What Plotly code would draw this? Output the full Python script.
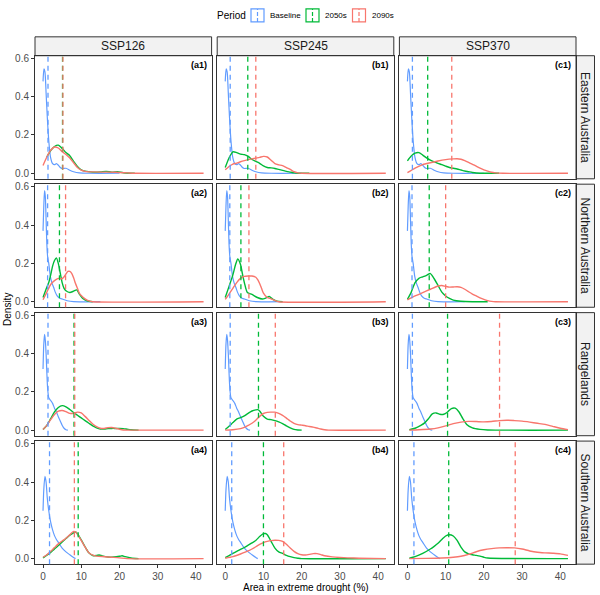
import plotly.graph_objects as go

# Facets
REGIONS = ["Eastern Australia", "Northern Australia", "Rangelands", "Southern Australia"]
SCENARIOS = ["SSP126", "SSP245", "SSP370"]
PERIODS = ["Baseline", "2050s", "2090s"]
TAGS = [["(a1)", "(b1)", "(c1)"], ["(a2)", "(b2)", "(c2)"],
        ["(a3)", "(b3)", "(c3)"], ["(a4)", "(b4)", "(c4)"]]
X_TICKS = [0, 10, 20, 30, 40]
Y_TICKS = [0.0, 0.2, 0.4, 0.6]

# Baseline densities (same in each scenario column)
BASE_EAST_X = [0, 0.25, 0.5, 0.8, 1.1, 1.5, 2, 2.5, 3, 3.5, 4, 4.5, 5, 6, 7, 8, 9.5, 12, 20]
BASE_EAST_Y = [0.48, 0.545, 0.53, 0.42, 0.3, 0.17, 0.08, 0.05, 0.045, 0.05, 0.042, 0.03, 0.025, 0.026, 0.016, 0.008, 0.002, 0, 0]
BASE_NORTH_X = [0, 0.2, 0.4, 0.6, 0.8, 1.0, 1.2, 1.5, 1.9, 2.3, 2.8, 3.2, 3.7, 4.3, 5, 6.3, 8, 15]
BASE_NORTH_Y = [0.37, 0.5, 0.58, 0.55, 0.43, 0.3, 0.237, 0.2, 0.134, 0.1, 0.074, 0.05, 0.031, 0.02, 0.014, 0.005, 0, 0]
BASE_RANGE_X = [0, 0.2, 0.4, 0.6, 0.8, 1.0, 1.2, 1.5, 2, 2.5, 3, 3.5, 4, 4.5, 5, 5.5, 6, 6.5]
BASE_RANGE_Y = [0.32, 0.45, 0.5, 0.47, 0.4, 0.3, 0.22, 0.17, 0.155, 0.14, 0.115, 0.095, 0.07, 0.048, 0.026, 0.01, 0.002, 0]
BASE_SOUTH_X = [0, 0.2, 0.5, 0.8, 1.1, 1.5, 2, 2.5, 3, 3.5, 4, 5, 6, 7, 8, 8.5]
BASE_SOUTH_Y = [0.25, 0.36, 0.43, 0.4, 0.32, 0.25, 0.19, 0.15, 0.12, 0.1, 0.085, 0.055, 0.035, 0.02, 0.006, 0]

# Eastern Australia
EAST_126_2050_X = [1, 2, 3, 4, 5, 6, 7, 8, 9, 10, 11, 13, 15, 16.5, 18, 19.5, 21, 24]
EAST_126_2050_Y = [0.085, 0.118, 0.14, 0.147, 0.13, 0.108, 0.092, 0.062, 0.035, 0.018, 0.011, 0.006, 0.007, 0.01, 0.006, 0.008, 0.003, 0]
EAST_126_2090_X = [0, 1, 2, 3, 4, 5, 6, 7, 8, 9, 10, 11, 13, 16, 19, 22, 24, 42]
EAST_126_2090_Y = [0.041, 0.085, 0.12, 0.137, 0.132, 0.113, 0.098, 0.08, 0.055, 0.03, 0.016, 0.01, 0.007, 0.006, 0.005, 0.002, 0, 0]
EAST_245_2050_X = [0, 1, 2, 3, 4, 5, 6, 7, 8, 9, 10, 11, 12, 13, 14, 15, 16, 17, 18, 19, 22]
EAST_245_2050_Y = [0.03, 0.08, 0.112, 0.108, 0.1, 0.097, 0.088, 0.072, 0.062, 0.052, 0.038, 0.03, 0.028, 0.025, 0.02, 0.015, 0.01, 0.006, 0.002, 0, 0]
EAST_245_2090_X = [0, 1, 2, 3, 4, 5, 6, 7, 8, 9, 10, 11, 12, 13, 14, 15, 16, 17, 18, 19, 20, 42]
EAST_245_2090_Y = [0.018, 0.035, 0.048, 0.053, 0.06, 0.066, 0.071, 0.075, 0.079, 0.083, 0.088, 0.085, 0.068, 0.05, 0.044, 0.04, 0.03, 0.02, 0.008, 0.002, 0, 0]
EAST_370_2050_X = [0, 1, 2, 3, 4, 5, 6, 7, 8, 9, 10, 11, 12, 13, 14, 15, 16, 17, 18, 19, 24]
EAST_370_2050_Y = [0.065, 0.09, 0.105, 0.108, 0.095, 0.08, 0.068, 0.06, 0.052, 0.045, 0.037, 0.03, 0.026, 0.022, 0.017, 0.012, 0.008, 0.004, 0.001, 0, 0]
EAST_370_2090_X = [0, 2, 4, 6, 8, 10, 12, 13, 14, 15, 16, 17, 18, 19, 20, 21, 22, 23, 25, 42]
EAST_370_2090_Y = [0.003, 0.027, 0.045, 0.055, 0.064, 0.071, 0.075, 0.076, 0.073, 0.066, 0.057, 0.047, 0.037, 0.027, 0.018, 0.011, 0.005, 0.002, 0, 0]

# Northern Australia
NORTH_126_2050_X = [0, 1, 1.5, 2, 2.5, 3, 3.5, 4, 4.5, 5, 5.5, 6, 7, 8, 8.8, 9.5, 10.5, 11.5, 13]
NORTH_126_2050_Y = [0.022, 0.075, 0.1, 0.14, 0.186, 0.215, 0.229, 0.2, 0.15, 0.1, 0.07, 0.057, 0.048, 0.055, 0.062, 0.04, 0.015, 0.004, 0]
NORTH_126_2090_X = [0, 1, 2, 3, 4, 5, 5.5, 6, 6.5, 7, 7.5, 8, 8.5, 9, 9.5, 10, 11, 12, 13, 42]
NORTH_126_2090_Y = [0.01, 0.05, 0.09, 0.11, 0.122, 0.12, 0.13, 0.145, 0.158, 0.158, 0.148, 0.125, 0.095, 0.07, 0.045, 0.032, 0.015, 0.004, 0, 0]
NORTH_245_2050_X = [0, 1, 2, 2.7, 3.3, 4, 4.5, 5, 5.8, 7, 8.4, 9.7, 10.7, 11.5, 12.4, 13.5, 15]
NORTH_245_2050_Y = [0.022, 0.08, 0.14, 0.194, 0.223, 0.194, 0.145, 0.1, 0.048, 0.038, 0.022, 0.014, 0.02, 0.027, 0.014, 0.003, 0]
NORTH_245_2090_X = [0, 1, 2, 3, 4, 5, 6, 7, 8, 8.5, 9, 9.5, 10, 11, 12, 13, 14, 42]
NORTH_245_2090_Y = [0.012, 0.04, 0.07, 0.1, 0.122, 0.132, 0.134, 0.134, 0.128, 0.115, 0.095, 0.07, 0.045, 0.022, 0.015, 0.006, 0, 0]
NORTH_370_2050_X = [0, 1, 2, 3, 4, 5, 6, 7, 8, 9, 10, 11, 12, 14, 17, 21]
NORTH_370_2050_Y = [0.012, 0.05, 0.1, 0.122, 0.13, 0.138, 0.147, 0.12, 0.085, 0.05, 0.03, 0.017, 0.008, 0.002, 0, 0]
NORTH_370_2090_X = [0, 2, 4, 6, 8, 9, 10, 11, 12, 13, 14, 15, 16, 17, 18, 19, 20, 21, 22, 23, 42]
NORTH_370_2090_Y = [0.01, 0.03, 0.048, 0.065, 0.082, 0.085, 0.08, 0.076, 0.077, 0.078, 0.075, 0.065, 0.052, 0.04, 0.03, 0.02, 0.012, 0.006, 0.002, 0, 0]

# Rangelands
RANGE_126_2050_X = [0, 1, 2, 3, 4, 5, 6, 7, 8, 9, 10, 11, 12, 13, 14, 15, 16, 17, 18, 19, 20, 21, 22, 23, 25]
RANGE_126_2050_Y = [0.003, 0.025, 0.06, 0.095, 0.118, 0.128, 0.122, 0.108, 0.092, 0.078, 0.064, 0.05, 0.036, 0.022, 0.012, 0.006, 0.006, 0.008, 0.009, 0.009, 0.009, 0.008, 0.005, 0.002, 0]
RANGE_126_2090_X = [0, 1, 2, 3, 4, 5, 6, 7, 8, 9, 10, 11, 12, 13, 14, 15, 16, 17, 18, 19, 20, 21, 22, 42]
RANGE_126_2090_Y = [0.003, 0.025, 0.055, 0.082, 0.099, 0.103, 0.097, 0.088, 0.088, 0.094, 0.09, 0.072, 0.052, 0.032, 0.018, 0.01, 0.009, 0.013, 0.014, 0.01, 0.005, 0.001, 0, 0]
RANGE_245_2050_X = [0, 1, 2, 3, 4, 5, 6, 7, 8, 8.5, 9, 10, 11, 12, 13, 14, 15, 16, 17, 18, 19, 20]
RANGE_245_2050_Y = [0.003, 0.02, 0.04, 0.058, 0.065, 0.075, 0.088, 0.1, 0.106, 0.107, 0.1, 0.072, 0.058, 0.055, 0.05, 0.043, 0.034, 0.022, 0.012, 0.004, 0.001, 0]
RANGE_245_2090_X = [0, 2, 4, 5, 6, 7, 8, 9, 10, 11, 12, 13, 14, 15, 16, 17, 18, 19, 20, 21, 22, 23, 24, 25, 26, 27, 42]
RANGE_245_2090_Y = [0, 0.002, 0.008, 0.015, 0.025, 0.036, 0.052, 0.072, 0.087, 0.093, 0.094, 0.094, 0.088, 0.077, 0.063, 0.048, 0.036, 0.029, 0.026, 0.023, 0.019, 0.016, 0.011, 0.006, 0.002, 0, 0]
RANGE_370_2050_X = [0.5, 2, 3.5, 4.5, 5.5, 6.5, 7.5, 8.5, 9.5, 10.5, 11.5, 12.5, 13.5, 14.5, 15.5, 17, 19, 21, 42]
RANGE_370_2050_Y = [0.002, 0.01, 0.025, 0.038, 0.06, 0.085, 0.09, 0.083, 0.083, 0.095, 0.113, 0.115, 0.095, 0.06, 0.03, 0.012, 0.004, 0.001, 0]
RANGE_370_2090_X = [0.5, 3, 6, 8, 10, 12, 14, 16, 18, 20, 22, 24, 26, 28, 30, 32, 34, 36, 38, 40, 42]
RANGE_370_2090_Y = [0, 0.002, 0.006, 0.012, 0.022, 0.034, 0.042, 0.046, 0.045, 0.043, 0.045, 0.05, 0.052, 0.05, 0.047, 0.042, 0.036, 0.03, 0.02, 0.01, 0.003]

# Southern Australia
SOUTH_126_2050_X = [0, 1, 2, 3, 4, 5, 6, 7, 8, 8.5, 9, 10, 11, 12, 13, 14, 14.7, 15.5, 17, 18.5, 20, 20.7, 21.5, 23, 25]
SOUTH_126_2050_Y = [0.004, 0.018, 0.032, 0.05, 0.068, 0.087, 0.105, 0.122, 0.135, 0.139, 0.13, 0.098, 0.062, 0.03, 0.016, 0.016, 0.019, 0.014, 0.008, 0.008, 0.012, 0.015, 0.01, 0.003, 0]
SOUTH_126_2090_X = [0, 1, 2, 3, 4, 5, 6, 7, 7.5, 8, 8.5, 9, 10, 11, 12, 13, 14, 16, 18, 20, 22, 42]
SOUTH_126_2090_Y = [0.007, 0.02, 0.038, 0.058, 0.077, 0.092, 0.106, 0.125, 0.135, 0.142, 0.14, 0.128, 0.095, 0.06, 0.03, 0.018, 0.013, 0.01, 0.007, 0.004, 0, 0]
SOUTH_245_2050_X = [0, 1, 2, 3, 4, 5, 6, 7, 8, 9, 10, 10.5, 11, 12, 13, 14, 15, 16, 17, 18, 19, 20, 42]
SOUTH_245_2050_Y = [0.005, 0.015, 0.027, 0.038, 0.048, 0.058, 0.07, 0.082, 0.095, 0.115, 0.13, 0.131, 0.125, 0.09, 0.055, 0.035, 0.027, 0.017, 0.01, 0.005, 0.002, 0, 0]
SOUTH_245_2090_X = [0, 2, 4, 6, 8, 9, 10, 11, 12, 13, 14, 15, 16, 17, 18, 19, 20, 21, 22, 23, 24, 25, 26, 28, 30, 32, 35, 42]
SOUTH_245_2090_Y = [0.002, 0.01, 0.024, 0.04, 0.062, 0.074, 0.084, 0.09, 0.094, 0.096, 0.095, 0.09, 0.075, 0.055, 0.038, 0.026, 0.02, 0.019, 0.022, 0.026, 0.026, 0.021, 0.015, 0.009, 0.006, 0.004, 0.002, 0]
SOUTH_370_2050_X = [0.5, 2, 4, 6, 7, 8, 9, 10, 11, 12, 13, 14, 15, 16, 17, 18, 19, 20, 21, 42]
SOUTH_370_2050_Y = [0.002, 0.01, 0.027, 0.05, 0.064, 0.08, 0.1, 0.118, 0.125, 0.118, 0.095, 0.06, 0.035, 0.025, 0.02, 0.017, 0.013, 0.007, 0.003, 0]
SOUTH_370_2090_X = [0.5, 5, 9, 12, 14, 16, 18, 20, 22, 24, 26, 28, 30, 32, 34, 36, 38, 40, 42]
SOUTH_370_2090_Y = [0, 0.001, 0.003, 0.007, 0.012, 0.022, 0.036, 0.046, 0.052, 0.056, 0.057, 0.056, 0.05, 0.04, 0.033, 0.03, 0.028, 0.025, 0.017]

# Period means (dashed lines), rows = regions, cols = scenarios
MEAN_BASELINE = [1.3, 1.2, 1.3, 1.7]
MEAN_2050 = [[5.1, 5.9, 5.3], [4.3, 4.1, 5.7], [8.1, 8.7, 10.5], [9.2, 10.0, 10.8]]
MEAN_2090 = [[5.2, 8.0, 11.6], [5.9, 6.2, 10.0], [8.3, 13.1, 24.1], [8.2, 15.3, 28.2]]

COLORS = {"Baseline": "#619CFF", "2050s": "#00BA38", "2090s": "#F8766D"}
FONT = "Liberation Sans, Arial, sans-serif"

BASELINES = [(BASE_EAST_X, BASE_EAST_Y), (BASE_NORTH_X, BASE_NORTH_Y),
             (BASE_RANGE_X, BASE_RANGE_Y), (BASE_SOUTH_X, BASE_SOUTH_Y)]
FUTURE = [
    [((EAST_126_2050_X, EAST_126_2050_Y), (EAST_126_2090_X, EAST_126_2090_Y)),
     ((EAST_245_2050_X, EAST_245_2050_Y), (EAST_245_2090_X, EAST_245_2090_Y)),
     ((EAST_370_2050_X, EAST_370_2050_Y), (EAST_370_2090_X, EAST_370_2090_Y))],
    [((NORTH_126_2050_X, NORTH_126_2050_Y), (NORTH_126_2090_X, NORTH_126_2090_Y)),
     ((NORTH_245_2050_X, NORTH_245_2050_Y), (NORTH_245_2090_X, NORTH_245_2090_Y)),
     ((NORTH_370_2050_X, NORTH_370_2050_Y), (NORTH_370_2090_X, NORTH_370_2090_Y))],
    [((RANGE_126_2050_X, RANGE_126_2050_Y), (RANGE_126_2090_X, RANGE_126_2090_Y)),
     ((RANGE_245_2050_X, RANGE_245_2050_Y), (RANGE_245_2090_X, RANGE_245_2090_Y)),
     ((RANGE_370_2050_X, RANGE_370_2050_Y), (RANGE_370_2090_X, RANGE_370_2090_Y))],
    [((SOUTH_126_2050_X, SOUTH_126_2050_Y), (SOUTH_126_2090_X, SOUTH_126_2090_Y)),
     ((SOUTH_245_2050_X, SOUTH_245_2050_Y), (SOUTH_245_2090_X, SOUTH_245_2090_Y)),
     ((SOUTH_370_2050_X, SOUTH_370_2050_Y), (SOUTH_370_2090_X, SOUTH_370_2090_Y))],
]

# page geometry in pixels (600 x 595)
W, H = 600, 595
COL_L = [35, 217.2, 399.4]
PANEL_W = 176.6
ROW_T = [53, 182.1, 311.2, 440.3]
PANEL_H = 123.7


def fx(px):
    return px / W


def fy(py):
    return 1 - py / H


fig = go.Figure()
layout = dict(
    width=W, height=H, margin=dict(l=0, r=0, t=0, b=0),
    paper_bgcolor="white", plot_bgcolor="white", showlegend=False,
    font=dict(family=FONT, color="#1A1A1A"),
)
shapes = []
annotations = []

for r, region in enumerate(REGIONS):
    for c, scen in enumerate(SCENARIOS):
        k = r * 3 + c + 1
        xa = "x" if k == 1 else f"x{k}"
        ya = "y" if k == 1 else f"y{k}"
        bottom = r == len(REGIONS) - 1
        left = c == 0

        layout[f"xaxis{'' if k == 1 else k}"] = dict(
            domain=[fx(COL_L[c]), fx(COL_L[c] + PANEL_W)], anchor=ya,
            range=[-2.1, 44.1], tickvals=X_TICKS, showticklabels=bottom,
            ticks="outside" if bottom else "", ticklen=3, tickcolor="#333333",
            tickfont=dict(size=10, color="#4D4D4D", family=FONT),
            showline=True, mirror=True, linecolor="#333333", linewidth=1,
            showgrid=False, zeroline=False,
        )
        layout[f"yaxis{'' if k == 1 else k}"] = dict(
            domain=[fy(ROW_T[r] + PANEL_H), fy(ROW_T[r])], anchor=xa,
            range=[-0.029, 0.614], tickvals=Y_TICKS, tickformat=".1f",
            showticklabels=left, ticks="outside" if left else "", ticklen=3,
            tickcolor="#333333", tickfont=dict(size=10, color="#4D4D4D", family=FONT),
            showline=True, mirror=True, linecolor="#333333", linewidth=1,
            showgrid=False, zeroline=False,
        )

        curves = [("Baseline", BASELINES[r]), ("2050s", FUTURE[r][c][0]), ("2090s", FUTURE[r][c][1])]
        for period, (xs, ys) in curves:
            fig.add_trace(go.Scatter(
                x=xs, y=ys, mode="lines", xaxis=xa, yaxis=ya, name=period,
                line=dict(color=COLORS[period], width=1.2 if period == "Baseline" else 1.4,
                          shape="spline", smoothing=0.7),
                hoverinfo="skip",
            ))

        means = [("Baseline", MEAN_BASELINE[r]), ("2050s", MEAN_2050[r][c]), ("2090s", MEAN_2090[r][c])]
        for period, m in means:
            shapes.append(dict(
                type="line", xref=xa, yref=f"{ya} domain", x0=m, x1=m, y0=0, y1=1,
                line=dict(color=COLORS[period], width=1.3, dash="5px,4px"),
            ))

        annotations.append(dict(
            text=f"<b>{TAGS[r][c]}</b>", xref="paper", yref="paper",
            x=fx(COL_L[c] + PANEL_W - 3), y=fy(ROW_T[r] + 2),
            xanchor="right", yanchor="top", showarrow=False,
            font=dict(size=9, color="black", family=FONT),
        ))

# strips on top
for c, scen in enumerate(SCENARIOS):
    shapes.append(dict(type="rect", xref="paper", yref="paper",
                       x0=fx(COL_L[c]), x1=fx(COL_L[c] + PANEL_W), y0=fy(53), y1=fy(34),
                       fillcolor="#F2F2F2", line=dict(color="#333333", width=1), layer="below"))
    annotations.append(dict(text=scen, xref="paper", yref="paper",
                            x=fx(COL_L[c] + PANEL_W / 2), y=fy(43.5),
                            xanchor="center", yanchor="middle", showarrow=False,
                            font=dict(size=12, color="#1A1A1A", family=FONT)))

# strips on the right
for r, region in enumerate(REGIONS):
    shapes.append(dict(type="rect", xref="paper", yref="paper",
                       x0=fx(576), x1=fx(594.5), y0=fy(ROW_T[r] + PANEL_H), y1=fy(ROW_T[r]),
                       fillcolor="#F2F2F2", line=dict(color="#333333", width=1), layer="below"))
    annotations.append(dict(text=region, xref="paper", yref="paper",
                            x=fx(585.2), y=fy(ROW_T[r] + PANEL_H / 2), textangle=90,
                            xanchor="center", yanchor="middle", showarrow=False,
                            font=dict(size=12, color="#1A1A1A", family=FONT)))

# axis titles
annotations.append(dict(text="Density", xref="paper", yref="paper", x=fx(8), y=fy(308.5),
                        textangle=-90, xanchor="center", yanchor="middle", showarrow=False,
                        font=dict(size=10, color="black", family=FONT)))
annotations.append(dict(text="Area in extreme drought (%)", xref="paper", yref="paper",
                        x=fx(305.5), y=fy(587), xanchor="center", yanchor="middle",
                        showarrow=False, font=dict(size=10, color="black", family=FONT)))

# legend drawn by hand: box outline with a dashed centre line
annotations.append(dict(text="Period", xref="paper", yref="paper", x=fx(215), y=fy(12.5),
                        xanchor="left", yanchor="middle", showarrow=False,
                        font=dict(size=10, color="black", family=FONT)))
key_left = [251, 306, 352.5]
for period, kx in zip(PERIODS, key_left):
    col = COLORS[period]
    shapes.append(dict(type="rect", xref="paper", yref="paper",
                       x0=fx(kx), x1=fx(kx + 13), y0=fy(19), y1=fy(6),
                       line=dict(color=col, width=1.2), fillcolor="rgba(0,0,0,0)"))
    shapes.append(dict(type="line", xref="paper", yref="paper",
                       x0=fx(kx + 6.5), x1=fx(kx + 6.5), y0=fy(19), y1=fy(6),
                       line=dict(color=col, width=1.2, dash="4px,2px")))
    annotations.append(dict(text=period, xref="paper", yref="paper", x=fx(kx + 17), y=fy(12.5),
                            xanchor="left", yanchor="middle", showarrow=False,
                            font=dict(size=8, color="black", family=FONT)))

layout["shapes"] = shapes
layout["annotations"] = annotations
fig.update_layout(**layout)

# drop the page's default body margin so the 600x595 figure fills the window
fig.write_html("out.html", config={"displayModeBar": False},
               post_script="document.body.style.margin = '0';")
